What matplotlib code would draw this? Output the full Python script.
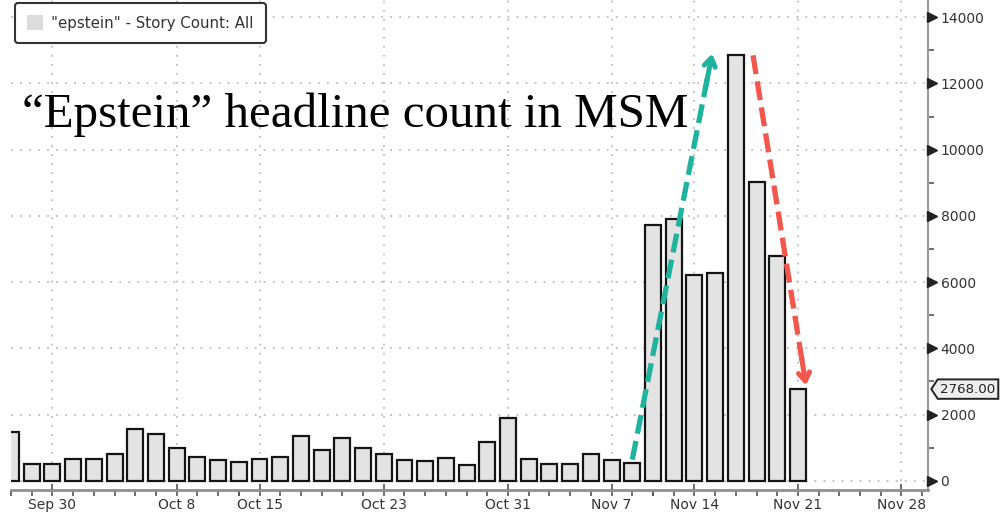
import numpy as np
import matplotlib
matplotlib.use("Agg")
import matplotlib.pyplot as plt
import matplotlib.transforms as mtransforms
from matplotlib.path import Path
from matplotlib.patches import Patch

# daily story counts (business days, market holidays skipped)
dates = ["2025-09-26", "2025-09-29", "2025-09-30", "2025-10-01", "2025-10-02", "2025-10-03",
         "2025-10-06", "2025-10-07", "2025-10-08", "2025-10-09", "2025-10-10", "2025-10-14",
         "2025-10-15", "2025-10-16", "2025-10-17", "2025-10-20", "2025-10-21", "2025-10-22",
         "2025-10-23", "2025-10-24", "2025-10-27", "2025-10-28", "2025-10-29", "2025-10-30",
         "2025-10-31", "2025-11-03", "2025-11-04", "2025-11-05", "2025-11-06", "2025-11-07",
         "2025-11-10", "2025-11-12", "2025-11-13", "2025-11-14", "2025-11-17", "2025-11-18",
         "2025-11-19", "2025-11-20", "2025-11-21"]
counts = [1470, 520, 510, 650, 650, 820,
          1550, 1420, 1000, 730, 630, 560,
          670, 710, 1350, 930, 1300, 1000,
          820, 620, 590, 700, 490, 1180,
          1900, 650, 520, 500, 820, 630,
          550, 7720, 7900, 6210, 6260, 12860,
          9020, 6780, 2768]
holidays = ["2025-10-13", "2025-11-11"]
tick_dates = ["2025-09-30", "2025-10-08", "2025-10-15", "2025-10-23", "2025-10-31",
              "2025-11-07", "2025-11-14", "2025-11-21", "2025-11-28"]
tick_labels = ["Sep 30", "Oct 8", "Oct 15", "Oct 23", "Oct 31",
               "Nov 7", "Nov 14", "Nov 21", "Nov 28"]
legend_label = '"epstein" - Story Count: All'
title = "\u201cEpstein\u201d headline count in MSM"

start = dates[0]
def pos(d):
    return np.busday_count(start, d, holidays=holidays)

x = np.array([pos(d) for d in dates])
xt = np.array([pos(d) for d in tick_dates])
all_days = np.arange(np.datetime64(start), np.datetime64("2025-12-02"))
minor_x = [pos(d) for d in all_days if np.is_busday(d)]

fig = plt.figure(figsize=(10, 5.13), dpi=100)
ax = fig.add_axes([0.011, 0.0448, 0.917, 0.9552])

ax.bar(x, counts, width=0.77, color="#e3e3e3", edgecolor="#141414", linewidth=1.6, zorder=3)

ax.set_xlim(0.02, 44.28)
ax.set_ylim(-280, 14520)

# grid
grid_kw = dict(color="#bdbdbd", linewidth=1.3, linestyle=(0, (1, 4)), zorder=1)
for v in xt:
    ax.axvline(v, **grid_kw)
for v in range(0, 14001, 2000):
    ax.axhline(v, **grid_kw)

# spines
for s in ["top", "left"]:
    ax.spines[s].set_visible(False)
ax.spines["bottom"].set_color("#8f8f8f")
ax.spines["bottom"].set_linewidth(2)
ax.spines["right"].set_color("#9a9a9a")
ax.spines["right"].set_linewidth(1.5)

# x axis
ax.set_xticks(xt)
ax.set_xticklabels(tick_labels)
ax.set_xticks(minor_x, minor=True)
ax.tick_params(axis="x", which="major", direction="inout", length=9, width=1.2,
               color="#555555", labelsize=10, labelcolor="#333333", pad=1)
ax.tick_params(axis="x", which="minor", direction="out", length=4, width=1.2, color="#555555")

# y axis on the right
yt = np.arange(0, 14001, 2000)
ax.yaxis.tick_right()
ax.set_yticks(yt)
ax.set_yticks(np.arange(1000, 14001, 2000), minor=True)
ax.tick_params(axis="y", which="major", length=0, labelsize=10, labelcolor="#333333", pad=9)
ax.tick_params(axis="y", which="minor", direction="out", length=4, width=1.2, color="#555555")
bt = mtransforms.blended_transform_factory(ax.transAxes, ax.transData)
ax.plot(np.full(len(yt), 1.0045), yt, ls="none", marker=">", ms=6.5, color="#222222",
        transform=bt, clip_on=False, zorder=5)

# last value tag
def tag_box(x0, y0, width, height, mutation_size):
    p = mutation_size * 0.2
    x0, y0, width, height = x0 - p, y0 - p * 1.2, width + 2 * p, height + 2.4 * p
    n = height * 0.33
    verts = [(x0, y0), (x0 + width, y0), (x0 + width, y0 + height), (x0, y0 + height),
             (x0 - n, y0 + height / 2), (x0, y0)]
    return Path(verts, closed=True)

ax.text(1.0135, counts[-1], f"{counts[-1]:.2f}", transform=bt, ha="left", va="center",
        fontsize=9.6, color="#222222", clip_on=False, zorder=6,
        bbox=dict(boxstyle=tag_box, facecolor="#eeeeee", edgecolor="#222222", linewidth=1.4))

# trend arrows
teal = "#1fb39e"
red = "#f2564d"
arrows = [((30.0, 640), (33.86, 12900), teal), ((35.83, 12850), (38.39, 2880), red)]
for (x0, y0), (x1, y1), c in arrows:
    ax.plot([x0, x0 + 0.94 * (x1 - x0)], [y0, y0 + 0.94 * (y1 - y0)], color=c, lw=3.8,
            linestyle=(0, (3.6, 1.4)), solid_capstyle="butt", zorder=6)
    ax.annotate("", xy=(x1, y1), xytext=(x0 + 0.92 * (x1 - x0), y0 + 0.92 * (y1 - y0)),
                arrowprops=dict(arrowstyle="->,head_length=0.6,head_width=0.4", color=c,
                                lw=3.6, shrinkA=0, shrinkB=0), zorder=6)

# headline
fig.text(0.022, 1 - 127 / 513, title, fontsize=35.3, family="Liberation Serif",
         color="black", va="baseline", ha="left")

# legend
leg = ax.legend(handles=[Patch(facecolor="#dcdcdc", edgecolor="none")], labels=[legend_label],
                loc="upper left", bbox_to_anchor=(0.015, 1 - 3 / 513),
                bbox_transform=fig.transFigure, borderaxespad=0, fontsize=10.8,
                frameon=True, fancybox=True, handlelength=1.05, handleheight=1.2,
                handletextpad=0.55, borderpad=0.8)
leg.get_frame().set_edgecolor("#333333")
leg.get_frame().set_linewidth(1.5)
leg.get_frame().set_alpha(1)
for t in leg.get_texts():
    t.set_color("#333333")

fig.savefig("out.png", dpi=100)
